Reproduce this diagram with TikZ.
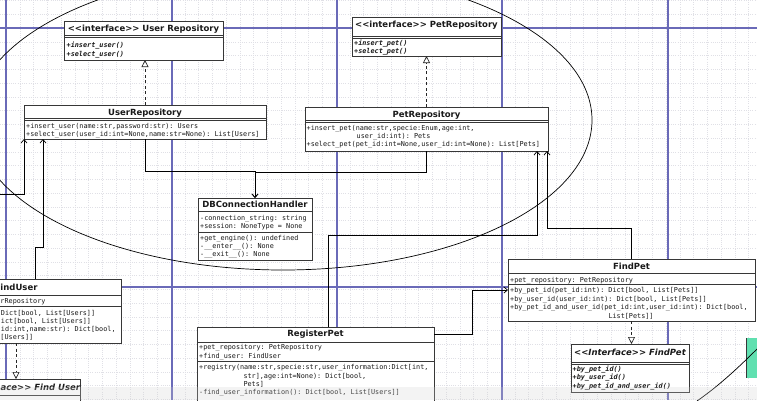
\documentclass[tikz,border=0pt]{standalone}
\usepackage{fontspec}
\setmainfont{DejaVu Sans}
\setmonofont{DejaVu Sans Mono}
\usetikzlibrary{arrows.meta,calc}
\definecolor{pagec}{RGB}{106,106,184}
\definecolor{gridc}{RGB}{224,224,230}
\definecolor{boxc}{RGB}{55,55,55}
\definecolor{txtc}{RGB}{25,25,25}
\definecolor{mint}{RGB}{96,224,176}
\tikzset{
  cbox/.style={draw=boxc, fill=white, line width=0.8pt, rectangle, inner sep=0pt, outer sep=0pt, anchor=north west},
  ttl/.style={font=\fontsize{8.5}{10}\selectfont\bfseries, text=txtc, inner sep=0pt, anchor=mid},
  ttli/.style={font=\fontsize{8.5}{10}\selectfont\bfseries\itshape, text=txtc, inner sep=0pt, anchor=mid},
  mono/.style={font=\fontsize{6.8}{8}\selectfont\ttfamily, text=txtc, inner sep=0pt, anchor=mid west},
  monoi/.style={font=\fontsize{6.8}{8}\selectfont\ttfamily\bfseries\itshape, text=txtc, inner sep=0pt, anchor=mid west},
  sepl/.style={draw=boxc, line width=0.6pt},
  assoc/.style={draw=black, line width=0.7pt, -{Straight Barb[length=3.5pt,width=6pt]}},
  real/.style={draw=black!85, line width=0.7pt, dash pattern=on 3pt off 2.5pt, -{Triangle[open,length=7pt,width=7pt,fill=white]}},
  pageline/.style={draw=pagec, line width=1.15pt},
  gridline/.style={draw=gridc, line width=0.4pt, dash pattern=on 1pt off 1.2pt},
}
\begin{document}
\begin{tikzpicture}[x=1pt,y=-1pt]
\useasboundingbox (0,0) rectangle (757,400);
\clip (0,0) rectangle (757,400);
\fill[white] (0,0) rectangle (757,400);
% grid
\foreach \i in {0,...,54} { \draw[gridline] ({6+\i*13.75},0) -- ({6+\i*13.75},400); }
\foreach \i in {-2,...,27} { \draw[gridline] (0,{28+\i*13.75}) -- (757,{28+\i*13.75}); }
% page boundaries
\foreach \xx in {6,172,337,502,668} { \draw[pageline] (\xx,0) -- (\xx,400); }
\draw[pageline] (0,28) -- (757,28);
\draw[pageline] (0,287) -- (757,287);
% big ellipse
\draw[black, line width=0.7pt] (283,120) ellipse [x radius=309pt, y radius=150pt];
% bottom-right decorations
\fill[mint] (746,338) rectangle (758,378);
\draw[boxc, line width=0.8pt] (746,338) -- (746,378);
\draw[black, line width=0.7pt] (697,401) .. controls (720,385) and (740,366) .. (758,348);

% ---------- <<interface>> User Repository
\node[cbox, minimum width=159pt, minimum height=39pt] (iurepo) at (64,21) {};
\node[ttl] (iurepo-t) at (143.5,28.8) {<{}<interface>{}> User Repository};
\draw[sepl] (64,35) -- (223,35);
\draw[sepl] (64,37) -- (223,37);
\node[monoi] (iurepo-m1) at (66.5,45) {+insert\_user()};
\node[monoi] (iurepo-m2) at (66.5,53.5) {+select\_user()};

% ---------- <<interface>> PetRepository
\node[cbox, minimum width=149pt, minimum height=39pt] (iprepo) at (352,17) {};
\node[ttl] (iprepo-t) at (426.5,24.8) {<{}<interface>{}> PetRepository};
\draw[sepl] (352,36) -- (501,36);
\draw[sepl] (352,38) -- (501,38);
\node[monoi] (iprepo-m1) at (354,42.5) {+insert\_pet()};
\node[monoi] (iprepo-m2) at (354,50.7) {+select\_pet()};

% ---------- UserRepository
\node[cbox, minimum width=242pt, minimum height=34pt] (urepo) at (24,105) {};
\node[ttl] (urepo-t) at (145,112.5) {UserRepository};
\draw[sepl] (24,118.5) -- (266,118.5);
\draw[sepl] (24,120.5) -- (266,120.5);
\node[mono] (urepo-m1) at (26,125.5) {+insert\_user(name:str,password:str): Users};
\node[mono] (urepo-m2) at (26,134) {+select\_user(user\_id:int=None,name:str=None): List[Users]};

% ---------- PetRepository
\node[cbox, minimum width=243pt, minimum height=44pt] (prepo) at (305,107) {};
\node[ttl] (prepo-t) at (426.5,114.5) {PetRepository};
\draw[sepl] (305,120) -- (548,120);
\draw[sepl] (305,122) -- (548,122);
\node[mono] (prepo-m1) at (306.5,127.5) {+insert\_pet(name:str,specie:Enum,age:int,};
\node[mono] (prepo-m2) at (356.5,135.8) {user\_id:int): Pets};
\node[mono] (prepo-m3) at (306.5,144) {+select\_pet(pet\_id:int=None,user\_id:int=None): List[Pets]};

% ---------- DBConnectionHandler
\node[cbox, minimum width=114pt, minimum height=62pt] (dbch) at (198,198) {};
\node[ttl] (dbch-t) at (255,205) {DBConnectionHandler};
\draw[sepl] (198,211.5) -- (312,211.5);
\node[mono] (dbch-a1) at (200,217.7) {-connection\_string: string};
\node[mono] (dbch-a2) at (200,226) {+session: NoneType = None};
\draw[sepl] (198,232) -- (312,232);
\node[mono] (dbch-m1) at (200,237.5) {+get\_engine(): undefined};
\node[mono] (dbch-m2) at (200,245.5) {-\_\_enter\_\_(): None};
\node[mono] (dbch-m3) at (200,253.5) {-\_\_exit\_\_(): None};

% ---------- FindUser (cut at left edge)
\node[cbox, minimum width=210pt, minimum height=64pt] (finduser) at (-89,279) {};
\node[ttl, anchor=mid west] (finduser-t) at (0.3,288) {indUser};
\draw[sepl] (-89,295.5) -- (121,295.5);
\node[mono] (finduser-a1) at (0.3,300.7) {rRepository};
\draw[sepl] (-89,306) -- (121,306);
\node[mono] (finduser-m1) at (0.8,312.3) {Dict[bool, List[Users]]};
\node[mono] (finduser-m2) at (0.8,320.3) {ict[bool, List[Users]]};
\node[mono] (finduser-m3) at (0.8,328.7) {id:int,name:str): Dict[bool,};
\node[mono] (finduser-m4) at (0.3,337) {[Users]]};

% ---------- <<Interface>> Find User (cut)
\node[cbox, minimum width=128pt, minimum height=30pt] (ifuser) at (-47.5,379) {};
\node[ttli, anchor=mid west] (ifuser-t) at (0.4,387.8) {ace>{}> Find User};
\draw[sepl] (-47.5,395.5) -- (80.5,395.5);

% ---------- RegisterPet
\node[cbox, minimum width=237pt, minimum height=76pt] (regpet) at (197,327) {};
\node[ttl] (regpet-t) at (315.5,334) {RegisterPet};
\draw[sepl] (197,342) -- (434,342);
\node[mono] (regpet-a1) at (199,346.7) {+pet\_repository: PetRepository};
\node[mono] (regpet-a2) at (199,355.3) {+find\_user: FindUser};
\draw[sepl] (197,361) -- (434,361);
\node[mono] (regpet-m1) at (199,366.7) {+registry(name:str,specie:str,user\_information:Dict[int,};
\node[mono] (regpet-m2) at (243.3,375.3) {str],age:int=None): Dict[bool,};
\node[mono] (regpet-m3) at (243.3,383.7) {Pets]};
\node[mono] (regpet-m4) at (199,392) {-find\_user\_information(): Dict[bool, List[Users]]};

% ---------- FindPet
\node[cbox, minimum width=247pt, minimum height=62pt] (findpet) at (508,259) {};
\node[ttl] (findpet-t) at (631.5,266.5) {FindPet};
\draw[sepl] (508,273.3) -- (755,273.3);
\node[mono] (findpet-a1) at (510,279.3) {+pet\_repository: PetRepository};
\draw[sepl] (508,284.3) -- (755,284.3);
\node[mono] (findpet-m1) at (510,290) {+by\_pet\_id(pet\_id:int): Dict[bool, List[Pets]]};
\node[mono] (findpet-m2) at (510,298.5) {+by\_user\_id(user\_id:int): Dict[bool, List[Pets]]};
\node[mono] (findpet-m3) at (510,306.7) {+by\_pet\_id\_and\_user\_id(pet\_id:int,user\_id:int): Dict[bool,};
\node[mono] (findpet-m4) at (608.3,316) {List[Pets]]};

% ---------- <<Interface>> FindPet
\node[cbox, minimum width=118pt, minimum height=48pt] (ifpet) at (571,344) {};
\node[ttli] (ifpet-t) at (630,352.3) {<{}<Interface>{}> FindPet};
\draw[sepl] (571,362.3) -- (689,362.3);
\draw[sepl] (571,364.3) -- (689,364.3);
\node[monoi] (ifpet-m1) at (572.5,368.7) {+by\_pet\_id()};
\node[monoi] (ifpet-m2) at (572.5,377) {+by\_user\_id()};
\node[monoi] (ifpet-m3) at (572.5,385.7) {+by\_pet\_id\_and\_user\_id()};

% ---------- connectors
\draw[assoc] (urepo.south) -- ++(0,32) -| (dbch.north);
\draw[assoc] (prepo.south) -- ++(0,21) -| (dbch.north);
\draw[assoc] (findpet.north) -- ++(0,-31) -| ($(prepo.south east)+(-1,0)$);
\draw[assoc] ($(regpet.north west)+(131,0)$) -- ++(0,-92) -| ($(prepo.south east)+(-11,0)$);
\draw[assoc] ($(regpet.north east)+(0,7)$) -- ++(38,0) |- ($(findpet.north west)+(0,31)$);
\draw[assoc] ($(finduser.north)+(19,0)$) -- ++(0,-32) -| ($(urepo.south west)+(19,0)$);
\coordinate (offuser) at (-5,194);
\draw[assoc] (offuser) -| (urepo.south west);

% realizations
\draw[real] (urepo.north) -- (urepo.north |- iurepo.south);
\draw[real] (prepo.north) -- (prepo.north |- iprepo.south);
\draw[real] (findpet.south) -- (findpet.south |- ifpet.north);
\draw[real] (finduser.south) -- (finduser.south |- ifuser.north);

% video overlay band
\fill[gray!35, opacity=0.25] (0,387) rectangle (757,400);
\end{tikzpicture}
\end{document}
